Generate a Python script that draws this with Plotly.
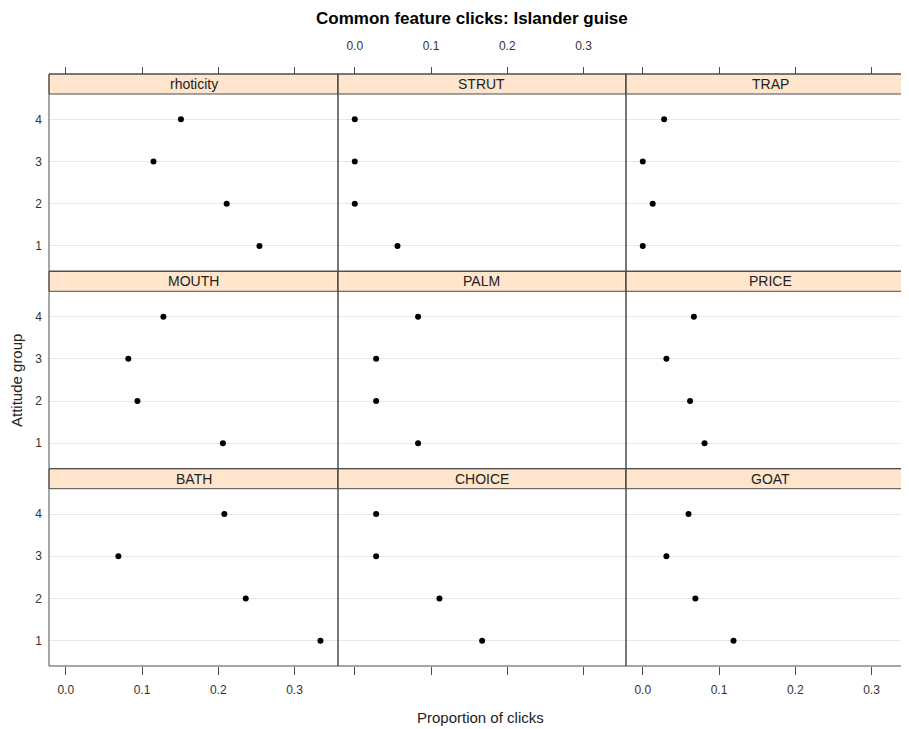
import plotly.graph_objects as go

# ---- data ----
features = ["rhoticity", "STRUT", "TRAP", "MOUTH", "PALM", "PRICE", "BATH", "CHOICE", "GOAT"]
groups = [1, 2, 3, 4]
rhoticity = [0.254, 0.211, 0.115, 0.151]
strut = [0.056, 0.0, 0.0, 0.0]
trap = [0.0, 0.013, 0.0, 0.028]
mouth = [0.206, 0.094, 0.082, 0.128]
palm = [0.083, 0.028, 0.028, 0.083]
price = [0.081, 0.062, 0.031, 0.067]
bath = [0.334, 0.236, 0.069, 0.208]
choice = [0.167, 0.111, 0.028, 0.028]
goat = [0.119, 0.069, 0.031, 0.060]
x_ticks = [0.0, 0.1, 0.2, 0.3]
x_ticklabels = ["0.0", "0.1", "0.2", "0.3"]
y_ticklabels = ["1", "2", "3", "4"]
series = [rhoticity, strut, trap, mouth, palm, price, bath, choice, goat]

# ---- layout geometry (pixels, in page coordinates) ----
OFF = 8                      # default page margin around the plot div
W, H = 909 - OFF, 729 - OFF  # figure size so that it fills the window
col_edges = [(49, 338), (338, 626), (626, 914)]
row_top = [74, 271.3, 468.7]
row_h = 197.3
strip_h = 20
xr = [-0.022, 0.357]
px_per_unit = (col_edges[0][1] - col_edges[0][0]) / (xr[1] - xr[0])
yr = [0.4, 4.6]

FONT = "Liberation Sans, Arial, sans-serif"
border = "#4d4d4d"

def px(x):
    return (x - OFF) / W

def py(y):
    return 1 - (y - OFF) / H

fig = go.Figure()
layout = {}
shapes = []
annotations = []

for i, (name, vals) in enumerate(zip(features, series)):
    r, c = divmod(i, 3)
    n = i + 1
    xk = "xaxis" if n == 1 else f"xaxis{n}"
    yk = "yaxis" if n == 1 else f"yaxis{n}"
    xa = "x" if n == 1 else f"x{n}"
    ya = "y" if n == 1 else f"y{n}"
    left, right = col_edges[c]
    right_vis = min(right, 909)
    rng = [xr[0], xr[0] + (right_vis - left) / px_per_unit]
    top = row_top[r]
    bottom = top + row_h
    fig.add_trace(go.Scatter(
        x=vals, y=groups, mode="markers", xaxis=xa, yaxis=ya,
        marker=dict(color="black", size=6, symbol="circle"),
        showlegend=False, cliponaxis=False,
        hovertemplate=name + ": %{x}<extra></extra>"))

    xd = dict(domain=[px(left), min(1, px(right_vis))], range=rng, showgrid=False,
              zeroline=False, showline=False, fixedrange=True,
              tickvals=x_ticks, ticktext=x_ticklabels,
              tickfont=dict(family=FONT, size=12, color="#333333"),
              tickcolor=border, tickwidth=1)
    if r == 0:
        xd.update(anchor="free", position=py(top), side="top", ticks="outside",
                  ticklen=7, showticklabels=(c == 1), ticklabelstandoff=12)
    elif r == 2:
        xd.update(anchor="free", position=py(bottom), side="bottom", ticks="outside",
                  ticklen=8, showticklabels=(c != 1), ticklabelstandoff=5)
    else:
        xd.update(anchor=ya, ticks="", showticklabels=False)
    layout[xk] = xd

    layout[yk] = dict(domain=[py(bottom), py(top + strip_h)], range=yr, anchor=xa,
                      tickvals=groups, ticktext=y_ticklabels,
                      showgrid=True, gridcolor="#e8e8e8", gridwidth=1,
                      zeroline=False, showline=False, ticks="", fixedrange=True,
                      showticklabels=(c == 0), ticklabelstandoff=6,
                      tickfont=dict(family=FONT, size=12, color="#333333"))

    # strip
    shapes.append(dict(type="rect", xref="paper", yref="paper",
                       x0=px(left), x1=px(right), y0=py(top + strip_h), y1=py(top),
                       fillcolor="#ffe5cc", line=dict(color=border, width=1), layer="above"))
    # panel border
    shapes.append(dict(type="rect", xref="paper", yref="paper",
                       x0=px(left), x1=px(right), y0=py(bottom), y1=py(top),
                       fillcolor="rgba(0,0,0,0)", line=dict(color=border, width=1), layer="above"))
    annotations.append(dict(text=name, xref="paper", yref="paper",
                            x=px((left + right) / 2), y=py(top + strip_h / 2),
                            xanchor="center", yanchor="middle", showarrow=False,
                            font=dict(family=FONT, size=14, color="#222222")))

annotations.append(dict(text="<b>Common feature clicks: Islander guise</b>", xref="paper", yref="paper",
                        x=px(472), y=py(19), xanchor="center", yanchor="middle", showarrow=False,
                        font=dict(family=FONT, size=17, color="black")))
annotations.append(dict(text="Proportion of clicks", xref="paper", yref="paper",
                        x=px(481), y=py(717), xanchor="center", yanchor="middle", showarrow=False,
                        font=dict(family=FONT, size=15, color="#222222")))
annotations.append(dict(text="Attitude group", xref="paper", yref="paper",
                        x=px(16), y=py(381), xanchor="center", yanchor="middle", showarrow=False,
                        textangle=-90, font=dict(family=FONT, size=15, color="#222222")))

fig.update_layout(**layout)
fig.update_layout(width=W, height=H, margin=dict(l=0, r=0, t=0, b=0),
                  paper_bgcolor="white", plot_bgcolor="white",
                  shapes=shapes, annotations=annotations, showlegend=False)

fig.write_html("out.html")
